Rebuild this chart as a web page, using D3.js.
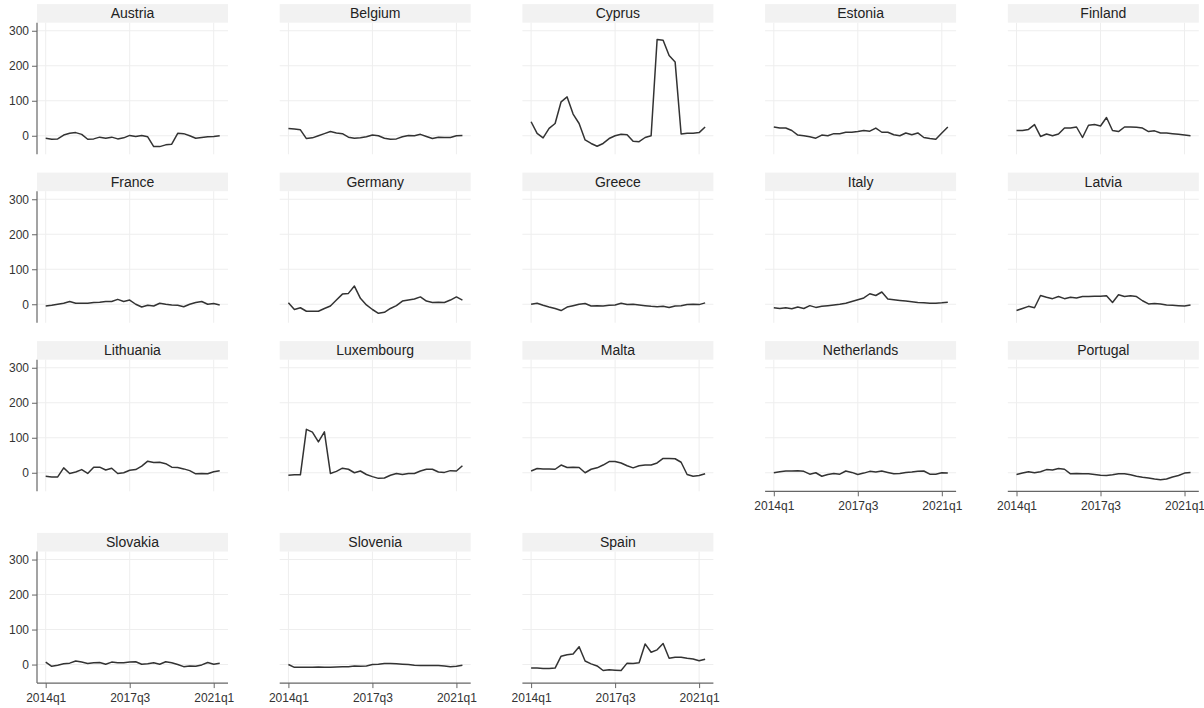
<!DOCTYPE html>
<html>
<head>
<meta charset="utf-8">
<script src="https://cdn.jsdelivr.net/npm/d3@7"></script>
<style>
  html, body { margin: 0; padding: 0; background: #ffffff; }
  svg { display: block; font-family: "Liberation Sans", Arial, sans-serif; }
</style>
</head>
<body>
<svg id="chart" width="1204" height="708"></svg>
<script>
// Quarterly periods shown on the horizontal axis
const quarters = [
  "2014q1","2014q2","2014q3","2014q4","2015q1","2015q2","2015q3","2015q4",
  "2016q1","2016q2","2016q3","2016q4","2017q1","2017q2","2017q3","2017q4",
  "2018q1","2018q2","2018q3","2018q4","2019q1","2019q2","2019q3","2019q4",
  "2020q1","2020q2","2020q3","2020q4","2021q1","2021q2"
];
const xTickLabels = ["2014q1", "2017q3", "2021q1"];
const yTickValues = [0, 100, 200, 300];

const countries = [
  "Austria","Belgium","Cyprus","Estonia","Finland",
  "France","Germany","Greece","Italy","Latvia",
  "Lithuania","Luxembourg","Malta","Netherlands","Portugal",
  "Slovakia","Slovenia","Spain"
];

// One series per country, one value per quarter
const austria = [-7,-10,-9,2,7,9,4,-10,-9,-4,-7,-4,-9,-6,1,-2,1,-3,-31,-31,-26,-24,7,6,0,-7,-5,-3,-2,0];
const belgium = [21,19,17,-8,-6,0,6,12,8,6,-4,-7,-6,-3,2,0,-7,-10,-9,-3,1,0,4,-2,-8,-4,-5,-5,0,1];
const cyprus = [40,7,-6,21,35,97,111,62,35,-12,-22,-30,-22,-8,0,4,3,-16,-17,-5,0,275,273,229,211,5,7,7,9,25];
const estonia = [25,22,22,15,2,0,-3,-7,2,0,6,6,10,10,12,15,13,22,10,10,3,0,8,3,8,-5,-8,-10,8,25];
const finland = [15,15,18,32,-2,5,0,5,22,22,25,-5,30,32,28,52,15,12,25,25,24,22,12,14,8,8,6,4,2,0];
const france = [-5,-3,0,3,8,3,3,3,5,6,8,8,14,8,12,0,-8,-3,-5,3,0,-2,-3,-7,0,5,8,0,2,-2];
const germany = [4,-15,-10,-20,-20,-20,-12,-5,12,29,31,52,17,-2,-15,-26,-23,-12,-4,9,12,15,21,9,5,6,5,12,21,12];
const greece = [0,3,-3,-8,-12,-18,-8,-4,0,2,-5,-4,-5,-3,-2,3,-1,0,-2,-4,-6,-7,-6,-9,-5,-4,-1,0,-1,4];
const italy = [-10,-12,-10,-13,-8,-12,-4,-9,-6,-4,-2,0,3,8,13,18,30,25,35,15,13,11,9,7,5,4,3,3,4,6];
const latvia = [-18,-12,-6,-10,25,20,16,22,16,20,18,22,22,23,23,24,5,27,22,24,22,10,1,2,1,-2,-3,-4,-5,-2];
const lithuania = [-10,-12,-12,14,-2,2,9,-2,16,16,8,13,-2,0,7,9,19,33,29,30,26,16,15,11,6,-3,-2,-3,3,6];
const luxembourg = [-7,-6,-6,124,116,88,117,-2,4,13,10,0,5,-5,-11,-16,-15,-7,-2,-5,-2,-2,5,10,10,2,1,6,5,20];
const malta = [5,12,11,11,10,22,15,16,15,0,10,14,22,32,32,28,20,14,20,22,22,28,41,41,40,30,-5,-10,-8,-3];
const netherlands = [0,3,5,5,6,4,-4,0,-10,-5,-2,-4,5,1,-5,-1,4,2,5,1,-3,-2,1,2,4,5,-4,-4,0,-1];
const portugal = [-5,-1,3,0,3,9,8,12,10,-3,-2,-3,-3,-5,-7,-8,-6,-3,-3,-6,-10,-13,-15,-18,-20,-18,-12,-8,-1,1];
const slovakia = [7,-5,-2,2,4,10,7,3,5,6,1,7,5,5,7,8,1,2,5,1,8,5,0,-6,-4,-5,-1,6,1,4];
const slovenia = [0,-8,-8,-8,-8,-7,-8,-8,-7,-6,-6,-4,-5,-4,0,1,3,3,2,1,0,-2,-3,-3,-3,-3,-4,-6,-5,-2];
const spain = [-10,-10,-11,-11,-10,24,28,30,51,10,2,-4,-17,-15,-16,-17,4,3,5,59,35,42,60,18,21,21,18,16,11,15];

const seriesByCountry = [
  austria, belgium, cyprus, estonia, finland,
  france, germany, greece, italy, latvia,
  lithuania, luxembourg, malta, netherlands, portugal,
  slovakia, slovenia, spain
];

// Grid layout of the small multiples
const nCols = 5;
const panelW = 191;
const plotH = 131.6;
const headerH = 18.6;
const colLeft = c => 37 + c * 242.7;
const rowTops = [22.7, 191.2, 359.7, 551.5];

const svg = d3.select("#chart");

const x = d3.scaleLinear().domain([-1.45, 30.38]).range([0, panelW]);
const y = d3.scaleLinear().domain([-53, 323]).range([plotH, 0]);

const line = d3.line()
  .x((d, i) => x(i))
  .y(d => y(d));

countries.forEach((name, i) => {
  const col = i % nCols;
  const row = Math.floor(i / nCols);
  const g = svg.append("g")
    .attr("transform", `translate(${colLeft(col)},${rowTops[row]})`);

  // header strip with the country name
  g.append("rect")
    .attr("x", 0).attr("y", -headerH)
    .attr("width", panelW).attr("height", headerH)
    .attr("fill", "#f2f2f2");
  g.append("text")
    .attr("x", panelW / 2).attr("y", -4.6)
    .attr("text-anchor", "middle")
    .attr("font-size", 14)
    .attr("fill", "#222")
    .text(name);

  // light grid
  g.append("g").selectAll("line").data(yTickValues).join("line")
    .attr("x1", 0).attr("x2", panelW)
    .attr("y1", d => y(d)).attr("y2", d => y(d))
    .attr("stroke", "#eeeeee").attr("stroke-width", 1);
  g.append("g").selectAll("line").data(xTickLabels).join("line")
    .attr("x1", d => x(quarters.indexOf(d))).attr("x2", d => x(quarters.indexOf(d)))
    .attr("y1", 0).attr("y2", plotH)
    .attr("stroke", "#eeeeee").attr("stroke-width", 1);

  // series line
  g.append("path")
    .datum(seriesByCountry[i])
    .attr("d", line)
    .attr("fill", "none")
    .attr("stroke", "#333")
    .attr("stroke-width", 1.5)
    .attr("stroke-linejoin", "round");

  // vertical axis on the first column
  if (col === 0) {
    const yAxis = d3.axisLeft(y).tickValues(yTickValues).tickSize(5).tickPadding(3);
    const ya = g.append("g").call(yAxis);
    ya.select(".domain").attr("d", `M0,0V${plotH}`).attr("stroke", "#666").attr("stroke-width", 1.2);
    ya.selectAll(".tick line").attr("stroke", "#666");
    ya.selectAll(".tick text").attr("font-size", 12).attr("fill", "#333")
      .attr("font-family", "Liberation Sans, Arial, sans-serif");
  }

  // horizontal axis on the last panel of each column
  if (i + nCols >= countries.length) {
    const xAxis = d3.axisBottom(x)
      .tickValues(xTickLabels.map(d => quarters.indexOf(d)))
      .tickFormat(d => quarters[d])
      .tickSize(5).tickPadding(5);
    const xa = g.append("g").attr("transform", `translate(0,${plotH})`).call(xAxis);
    xa.select(".domain").attr("d", `M0,0H${panelW}`).attr("stroke", "#666").attr("stroke-width", 1.2);
    xa.selectAll(".tick line").attr("stroke", "#666");
    xa.selectAll(".tick text").attr("font-size", 12).attr("fill", "#333")
      .attr("font-family", "Liberation Sans, Arial, sans-serif");
  }
});
</script>
</body>
</html>
